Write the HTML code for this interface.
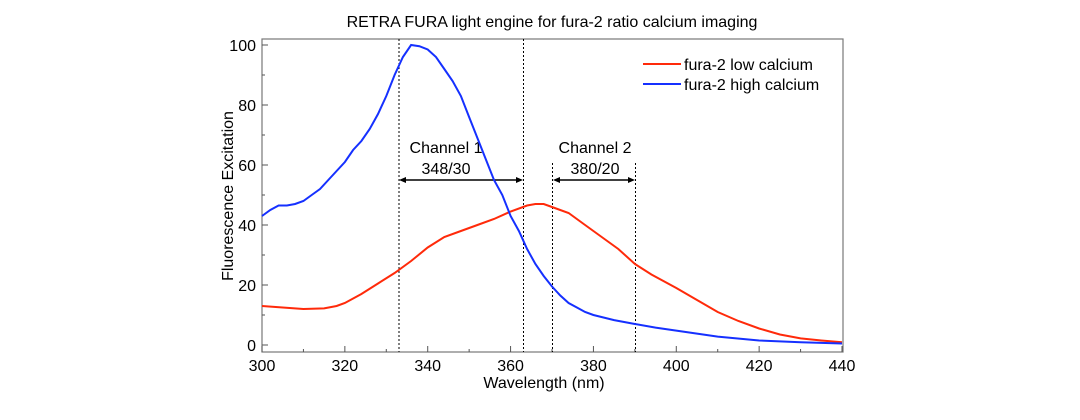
<!DOCTYPE html>
<html><head><meta charset="utf-8"><style>
html,body{margin:0;padding:0;background:#fff;}
svg text{font-family:"Liberation Sans",sans-serif;fill:#000;}
</style></head><body>
<svg id="s" width="1080" height="415" viewBox="0 0 1080 415" xmlns="http://www.w3.org/2000/svg">
<text x="552" y="27" font-size="16" text-anchor="middle">RETRA FURA light engine for fura-2 ratio calcium imaging</text>
<rect x="262" y="39" width="581" height="313" fill="none" stroke="#777" stroke-width="1.2"/>
<g id="ticks" stroke="#555" stroke-width="1"></g>
<g font-size="16" text-anchor="end" id="yl"></g>
<g font-size="16" text-anchor="middle" id="xl"></g>
<text x="544" y="388" font-size="16" text-anchor="middle">Wavelength (nm)</text>
<text transform="translate(233,196) rotate(-90)" font-size="16" text-anchor="middle">Fluorescence Excitation</text>
<g stroke="#000" stroke-width="1" stroke-dasharray="2,2">
<line x1="399" y1="39" x2="399" y2="352"/>
<line x1="523.5" y1="39" x2="523.5" y2="352"/>
<line x1="552.5" y1="163" x2="552.5" y2="352"/>
<line x1="635.5" y1="163" x2="635.5" y2="352"/>
</g>
<g stroke="#000" stroke-width="1.4">
<line x1="403" y1="180" x2="519" y2="180"/>
<line x1="557" y1="180" x2="631" y2="180"/>
</g>
<g fill="#000">
<polygon points="399,180 406,177 406,183"/><polygon points="523,180 516,177 516,183"/>
<polygon points="553,180 560,177 560,183"/><polygon points="635,180 628,177 628,183"/>
</g>
<text x="446" y="153" font-size="16" text-anchor="middle">Channel 1</text>
<text x="446" y="174" font-size="16" text-anchor="middle">348/30</text>
<text x="595" y="153" font-size="16" text-anchor="middle">Channel 2</text>
<text x="595" y="174" font-size="16" text-anchor="middle">380/20</text>
<polyline id="red" fill="none" stroke="#ff2a0a" stroke-width="2"/>
<polyline id="blue" fill="none" stroke="#1530ff" stroke-width="2"/>
<line x1="643" y1="64" x2="681" y2="64" stroke="#ff2a0a" stroke-width="2"/>
<line x1="643" y1="84" x2="681" y2="84" stroke="#1530ff" stroke-width="2"/>
<text x="684" y="70" font-size="16">fura-2 low calcium</text>
<text x="684" y="90" font-size="16">fura-2 high calcium</text>
</svg>
<script>
var X=function(n){return 262+(n-300)*580/140},Y=function(v){return 345-v*3};
var blue=[[300,43],[302,45],[304,46.5],[306,46.5],[308,47],[310,48],[312,50],[314,52],[316,55],[318,58],[320,61],[322,65],[324,68],[326,72],[328,77],[330,83],[332,90],[334,96],[336,100],[338,99.6],[340,98.5],[342,96],[344,92],[346,88],[348,83],[350,76],[352,69],[354,62],[356,55],[358,50],[360,43],[362,38],[364,32],[366,27],[368,23],[370,19.5],[372,16.5],[374,14],[376,12.5],[378,11],[380,10],[385,8.3],[390,7],[395,5.8],[400,4.8],[410,2.8],[420,1.5],[430,0.9],[440,0.5]];
var red=[[300,13],[305,12.5],[310,12],[315,12.2],[318,13],[320,14],[324,17],[328,20.5],[332,24],[336,28],[340,32.5],[344,36],[348,38],[352,40],[356,42],[360,44.5],[364,46.5],[366,47],[368,47],[370,46],[374,44],[378,40],[382,36],[386,32],[390,27],[394,23.5],[400,19],[405,15],[410,11],[415,8],[420,5.5],[425,3.5],[430,2.2],[435,1.5],[440,0.9]];
function pts(a){return a.map(function(p){return X(p[0]).toFixed(1)+","+Y(p[1]).toFixed(1)}).join(" ")}
document.getElementById("red").setAttribute("points",pts(red));
document.getElementById("blue").setAttribute("points",pts(blue));
var ns="http://www.w3.org/2000/svg",t=document.getElementById("ticks"),yl=document.getElementById("yl"),xl=document.getElementById("xl");
function L(x1,y1,x2,y2){var l=document.createElementNS(ns,"line");l.setAttribute("x1",x1);l.setAttribute("y1",y1);l.setAttribute("x2",x2);l.setAttribute("y2",y2);t.appendChild(l);}
function T(g,x,y,s){var e=document.createElementNS(ns,"text");e.setAttribute("x",x);e.setAttribute("y",y);e.textContent=s;g.appendChild(e);}
for(var v=0;v<=100;v+=10){var y=Y(v);L(262,y,v%20==0?268:265,y);if(v%20==0)T(yl,256,y+6,v);}
for(var n=300;n<=440;n+=10){var x=X(n);L(x,352,x,n%20==0?346:349);if(n%20==0)T(xl,x,371,n);}
</script>
</body></html>
